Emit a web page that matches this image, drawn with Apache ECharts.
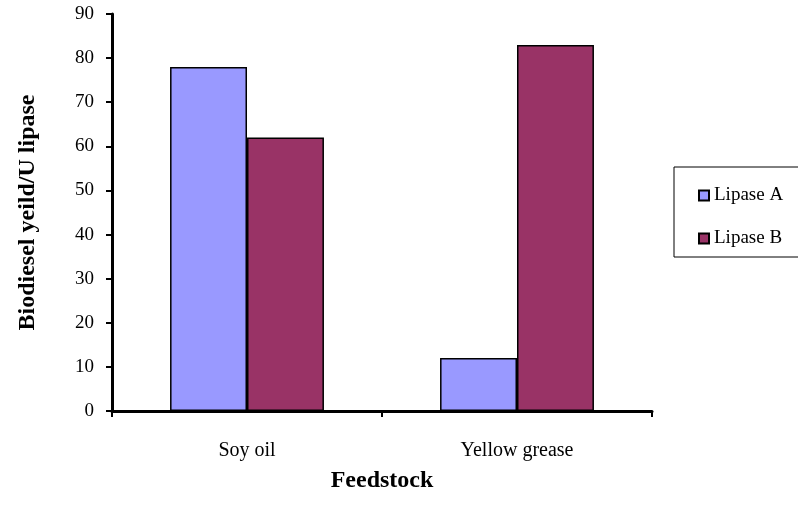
<!DOCTYPE html>
<html><head><meta charset="utf-8">
<script src="https://cdn.jsdelivr.net/npm/echarts@6/dist/echarts.min.js"></script>
<style>html,body{margin:0;padding:0;background:#fff}#c{width:798px;height:519px}</style>
</head><body><div id="c"></div>
<script>
const categories = ['Soy oil', 'Yellow grease'];
const lipaseA = [78, 12];
const lipaseB = [62, 83];
const yTicks = [0, 10, 20, 30, 40, 50, 60, 70, 80, 90];
const seriesNames = ['Lipase A', 'Lipase B'];

const FONT = '"Liberation Serif", "DejaVu Serif", serif';
const chart = echarts.init(document.getElementById('c'), null, {renderer: 'canvas'});
chart.setOption({
  animation: false,
  backgroundColor: '#fff',
  textStyle: {fontFamily: FONT, color: '#000'},
  grid: {left: 112, top: 14, right: 146, bottom: 108, containLabel: false},
  legend: {
    orient: 'vertical',
    left: 674, top: 167,
    padding: [19, 30, 9, 24],
    itemGap: 24,
    itemWidth: 10, itemHeight: 10,
    icon: 'rect',
    borderColor: '#000', borderWidth: 1, backgroundColor: '#fff',
    textStyle: {fontFamily: FONT, fontSize: 19, color: '#000'},
    data: seriesNames
  },
  xAxis: {
    type: 'category',
    data: categories,
    name: 'Feedstock',
    nameLocation: 'middle',
    nameGap: 58,
    nameTextStyle: {fontFamily: FONT, fontSize: 24, fontWeight: 'bold', color: '#000'},
    axisLine: {lineStyle: {color: '#000', width: 3}},
    axisTick: {show: true, length: 6, lineStyle: {color: '#000', width: 2}},
    axisLabel: {fontFamily: FONT, fontSize: 20, color: '#000', margin: 30}
  },
  yAxis: {
    type: 'value',
    min: yTicks[0], max: yTicks[yTicks.length - 1], interval: 10,
    name: 'Biodiesel yeild/U lipase',
    nameLocation: 'middle',
    nameGap: 72,
    nameTextStyle: {fontFamily: FONT, fontSize: 24, fontWeight: 'bold', color: '#000'},
    axisLine: {show: true, lineStyle: {color: '#000', width: 3}},
    axisTick: {show: true, length: 6, lineStyle: {color: '#000', width: 2}},
    axisLabel: {fontFamily: FONT, fontSize: 19, color: '#000', margin: 18},
    splitLine: {show: false}
  },
  series: [
    {name: seriesNames[0], type: 'bar', data: lipaseA, barGap: '0%', barCategoryGap: '43%',
     itemStyle: {color: '#9999FF', borderColor: '#000', borderWidth: 1.5}},
    {name: seriesNames[1], type: 'bar', data: lipaseB, barGap: '0%', barCategoryGap: '43%',
     itemStyle: {color: '#993366', borderColor: '#000', borderWidth: 1.5}}
  ]
});
</script></body></html>
